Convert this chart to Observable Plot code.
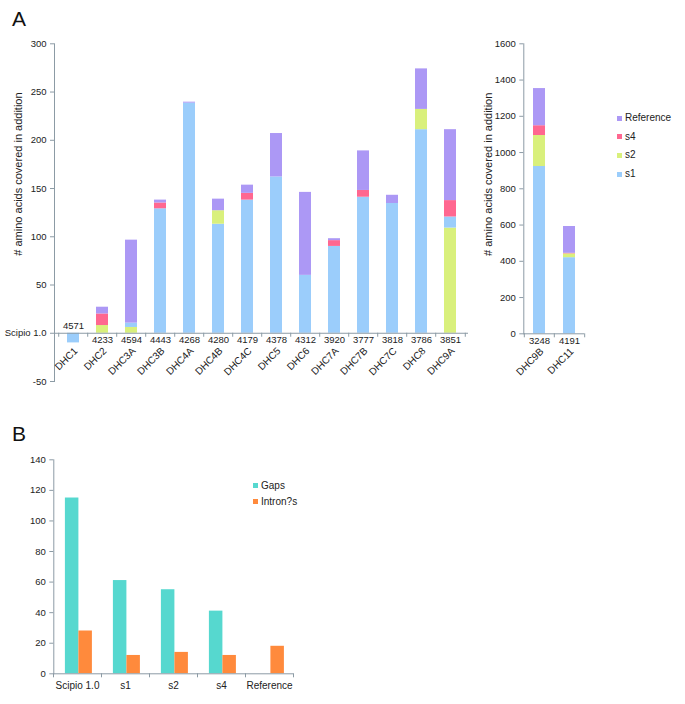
<!DOCTYPE html>
<html><head><meta charset="utf-8">
<script src="https://cdn.jsdelivr.net/npm/d3@7"></script>
<script src="https://cdn.jsdelivr.net/npm/@observablehq/plot@0.6"></script>
<style>
body{margin:0;background:#fff;font-family:"Liberation Sans",Arial,sans-serif;}
#root{position:relative;width:685px;height:704px;overflow:hidden;background:#fff;}
#root > svg, #root > figure{position:absolute;margin:0;}
svg g[aria-label$="axis tick"]{stroke:#8c9ba5;}
.panel{position:absolute;font-size:21px;line-height:1;color:#111;}
.leg{position:absolute;font-size:10px;line-height:12px;color:#222;display:flex;align-items:center;white-space:nowrap;}
.sw{width:5px;height:5px;margin-right:3px;display:inline-block;}
</style></head><body><div id="root"></div>
<script>
// ---- Panel A data ----
const catsA = ["DHC1","DHC2","DHC3A","DHC3B","DHC4A","DHC4B","DHC4C","DHC5","DHC6","DHC7A","DHC7B","DHC7C","DHC8","DHC9A"];
const lenA  = [4571,4233,4594,4443,4268,4280,4179,4378,4312,3920,3777,3818,3786,3851];
const s1A   = [-10,0,4.5,129,238.5,113,138,162,60,90,141,134.5,211,11.5];
const s2A   = [0,8,6,0,0,14,0,0,0,0,0,0,21,109];
const s4A   = [0,12,0,6,0,0,7,0,0,6,7,0,0,17];
const refA  = [0,7,86,3,1,12,8.5,45,86,2,41,8.5,42,73.5];
const s2BelowA = ["DHC3A","DHC9A"]; // stacks where s2 sits beneath s1
const catsR = ["DHC9B","DHC11"];
const lenR  = [3248,4191];
const s1R   = [923,420];
const s2R   = [171,21];
const s4R   = [54,3];
const refR  = [205,148];
const seriesA = ["s1","s2","s4","Reference"];
const colorsA = ["#9bcdfb","#d9f07c","#ff6790","#ac98f5"];
const legendOrderA = ["Reference","s4","s2","s1"];
const yTicksA = [-50,0,50,100,150,200,250,300];
const yTicksR = [0,200,400,600,800,1000,1200,1400,1600];
const zeroLabelA = "Scipio 1.0";
const yTitle = "# amino acids covered in addition";
// ---- Panel B data ----
const catsB = ["Scipio 1.0","s1","s2","s4","Reference"];
const gapsB = [115,61,55,41,0];
const intronsB = [28,12,14,12,18];
const seriesB = ["Gaps","Intron?s"];
const colorsB = ["#56d8cf","#ff8a3c"];
const yTicksB = [0,20,40,60,80,100,120,140];

const AX = "#8c9ba5";
const FONT = "'Liberation Sans', Arial, Helvetica, sans-serif";
const root = document.getElementById("root");

function place(el, left, top){ el.style.left = left+"px"; el.style.top = top+"px"; root.appendChild(el); }

function makeStack(o){
  const rows = [];
  o.cats.forEach((c,i)=>{
    const seg = {s1:o.s1[i], s2:o.s2[i], s4:o.s4[i], Reference:o.ref[i]};
    const order = o.below.includes(c) ? ["s2","s1","s4","Reference"] : ["s1","s2","s4","Reference"];
    order.forEach(k=>{ if (seg[k] !== 0) rows.push({cat:c, series:k, value:seg[k]}); });
  });
  const table = o.cats.map((c,i)=>({cat:c, len:String(o.lens[i]), neg:o.s1[i] < 0}));
  const n = o.cats.length;
  const step = (o.width - o.mL - o.mR)/n;
  const ymin = o.yTicks[0], ymax = o.yTicks[o.yTicks.length-1];
  const pxPerUnit = (o.height - o.mT - o.mB)/(ymax - ymin);
  const tick = 4/pxPerUnit;
  const titleCenter = ymax*0.55;
  return Plot.plot({
    width:o.width, height:o.height,
    marginLeft:o.mL, marginRight:o.mR, marginTop:o.mT, marginBottom:o.mB,
    x:{domain:o.cats, paddingInner:0.59, paddingOuter:0.295, axis:null},
    y:{domain:[ymin,ymax], label:null},
    color:{domain:seriesA, range:colorsA},
    style:{fontFamily:FONT, fontSize:"9.5px", color:"#222", background:"transparent", overflow:"visible"},
    marks:[
      Plot.barY(rows, Plot.stackY({x:"cat", y:"value", fill:"series", order:null})),
      Plot.frame({anchor:"left", stroke:AX}),
      Plot.axisY(o.yTicks, {tickSize:4, tickPadding:4, label:null,
        tickFormat: d => (d === 0 && o.zeroLabel) ? o.zeroLabel : String(d)}),
      Plot.ruleY([0], {stroke:AX}),
      Plot.ruleX(o.cats, {x:d=>d, y1:0, y2:-tick, dx:-step/2, stroke:AX}),
      Plot.ruleX([o.cats[n-1]], {x:d=>d, y1:0, y2:-tick, dx:step/2, stroke:AX}),
      Plot.text(table.filter(d=>!d.neg), {x:"cat", y:()=>0, text:"len", dy:7, fill:"#222"}),
      Plot.text(table.filter(d=>d.neg), {x:"cat", y:()=>0, text:"len", dy:-7, fill:"#222"}),
      Plot.text(table, {x:"cat", y:()=>0, text:"cat", rotate:-45, textAnchor:"end", dx:2.5, dy:16, fill:"#222", fontSize:10}),
      Plot.text([{t:yTitle, v:titleCenter}], {text:"t", y:"v", frameAnchor:"left", textAnchor:"middle", rotate:-90, dx:o.titleDx, fontSize:11, fill:"#222"})
    ]
  });
}

const chartA = makeStack({cats:catsA, lens:lenA, s1:s1A, s2:s2A, s4:s4A, ref:refA, below:s2BelowA,
  yTicks:yTicksA, zeroLabel:zeroLabelA, width:480, height:420, mL:54, mR:12, mT:43.3, mB:39, titleDx:-36});
place(chartA, 0, 0);

const chartR = makeStack({cats:catsR, lens:lenR, s1:s1R, s2:s2R, s4:s4R, ref:refR, below:[],
  yTicks:yTicksR, zeroLabel:null, width:130, height:420, mL:53.3, mR:16, mT:43.3, mB:86.7, titleDx:-35});
place(chartR, 470, 0);

// legend A
legendOrderA.forEach((s,i)=>{
  const d = document.createElement("div"); d.className="leg";
  d.innerHTML = `<span class="sw" style="background:${colorsA[seriesA.indexOf(s)]}"></span>${s}`;
  place(d, 617, 112 + i*18.7);
});

// Panel B
const tableB = catsB.map((c,i)=>({cat:c, gaps:gapsB[i], introns:intronsB[i]}));
(function(){
  const width=300, height=264, mL=53.3, mR=6.7, mT=19.3, mB=30.7;
  const n = catsB.length, step = (width-mL-mR)/n, barW = 13.5;
  const ymax = yTicksB[yTicksB.length-1];
  const tick = 4/((height-mT-mB)/ymax);
  const chartB = Plot.plot({
    width, height, marginLeft:mL, marginRight:mR, marginTop:mT, marginBottom:mB,
    x:{domain:catsB, padding:0, axis:null},
    y:{domain:[0,ymax], label:null},
    style:{fontFamily:FONT, fontSize:"9.5px", color:"#222", background:"transparent", overflow:"visible"},
    marks:[
      Plot.barY(tableB, {x:"cat", y:"gaps", fill:colorsB[0], insetLeft:step/2-barW+1.4, insetRight:step/2-1.4}),
      Plot.barY(tableB, {x:"cat", y:"introns", fill:colorsB[1], insetLeft:step/2+1.4, insetRight:step/2-barW-1.4}),
      Plot.frame({anchor:"left", stroke:AX}),
      Plot.axisY(yTicksB, {tickSize:4, tickPadding:4, label:null}),
      Plot.ruleY([0], {stroke:AX}),
      Plot.ruleX(catsB, {x:d=>d, y1:0, y2:-tick, dx:-step/2, stroke:AX}),
      Plot.ruleX([catsB[n-1]], {x:d=>d, y1:0, y2:-tick, dx:step/2, stroke:AX}),
      Plot.text(tableB, {x:"cat", y:()=>0, text:"cat", dy:12, fill:"#222", fontSize:10})
    ]
  });
  place(chartB, 0, 440);
})();
seriesB.forEach((s,i)=>{
  const d = document.createElement("div"); d.className="leg";
  d.innerHTML = `<span class="sw" style="background:${colorsB[i]}"></span>${s}`;
  place(d, 253, 479.5 + i*16);
});

// panel letters
["A","B"].forEach((t,i)=>{
  const d = document.createElement("div"); d.className="panel"; d.textContent=t;
  place(d, 12, i ? 422.6 : 7.6);
});
</script></body></html>
